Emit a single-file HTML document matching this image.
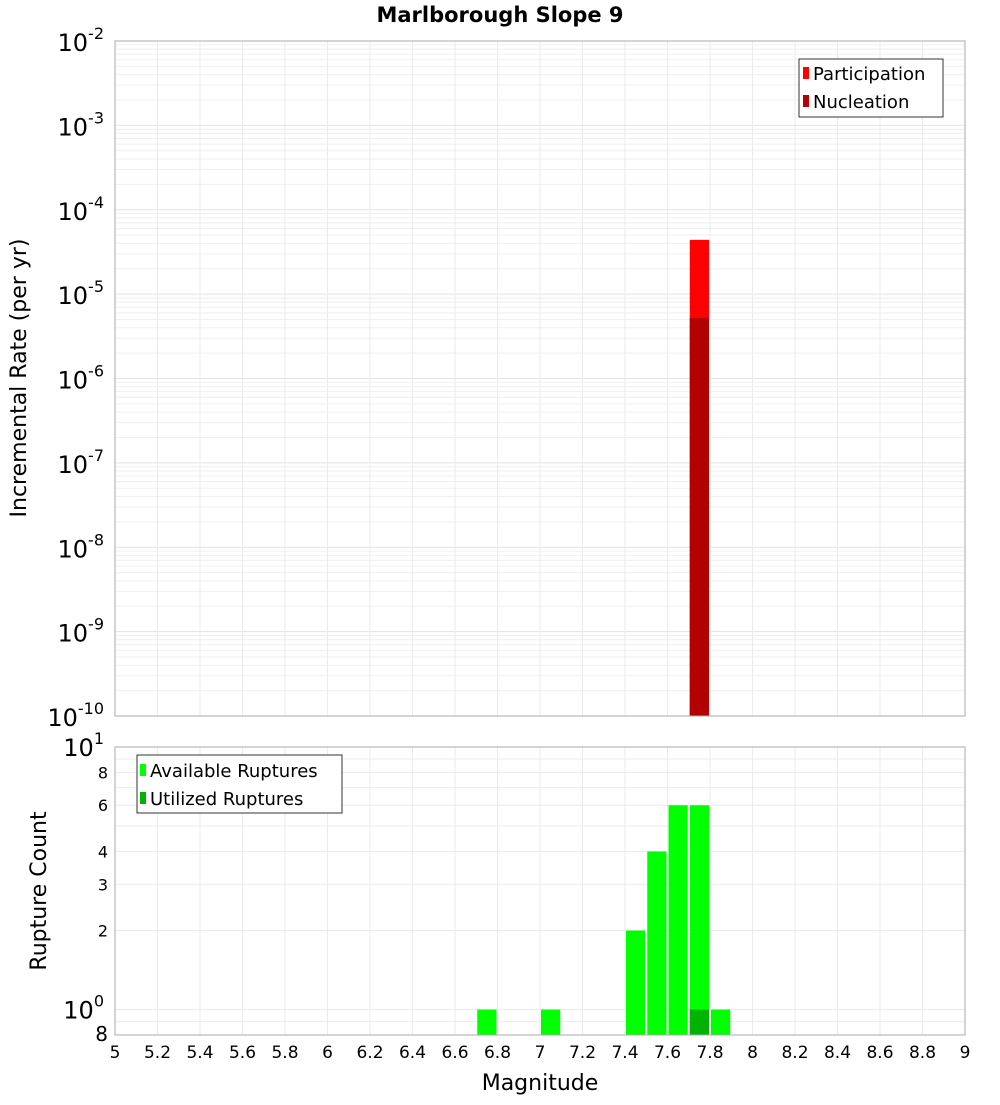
<!DOCTYPE html>
<html><head><meta charset="utf-8"><style>
body{margin:0;background:#fff;font-family:"Liberation Sans","DejaVu Sans",sans-serif}
svg text{font-family:"DejaVu Sans","Liberation Sans",sans-serif}
</style></head><body>
<svg id="c" width="1000" height="1100"></svg>
<script>
const magBins=[7.75];
const participation=[4.4e-5];
const nucleation=[5.2e-6];
const countBins=[6.75,7.05,7.45,7.55,7.65,7.75,7.85];
const available=[1,1,2,4,6,6,1];
const utilizedBins=[7.75];
const utilized=[1];
const xTicks=[5,5.2,5.4,5.6,5.8,6,6.2,6.4,6.6,6.8,7,7.2,7.4,7.6,7.8,8,8.2,8.4,8.6,8.8,9];
const topExp=[-10,-9,-8,-7,-6,-5,-4,-3,-2];
const botTicks=[2,3,4,6,8];

const svg=document.getElementById('c');const NS='http://www.w3.org/2000/svg';
function el(t,a,name,txt){const e=document.createElementNS(NS,t);for(const k in a)e.setAttribute(k,a[k]);


if(txt!==undefined)e.textContent=txt;svg.appendChild(e);return e;}
const L=115,R=965,T1=41,B1=716,T2=747,B2=1035;
const X=v=>L+(v-5)/4*(R-L);
const Y1=v=>T1+(-2-Math.log10(v))/8*(B1-T1);
const lb=Math.log10(0.8),lt=1;
const Y2=v=>T2+(lt-Math.log10(v))/(lt-lb)*(B2-T2);
el('text',{x:500,y:22,'text-anchor':'middle','font-size':21,'font-weight':'bold'},'chart-title','Marlborough Slope 9');
// grids
for(let e=-10;e<-2;e++)for(let m=1;m<10;m++){const y=Y1(m*Math.pow(10,e));el('line',{x1:L,x2:R,y1:y,y2:y,stroke:m==1?'#e2e2e2':'#efefef'},'top-h-grid');}
[0.8,0.9,1,2,3,4,5,6,7,8,9,10].forEach(v=>{const y=Y2(v);el('line',{x1:L,x2:R,y1:y,y2:y,stroke:'#ebebeb'},'bottom-h-grid');});
xTicks.forEach(v=>{el('line',{x1:X(v),x2:X(v),y1:T1,y2:B1,stroke:'#ebebeb'},'top-v-grid');el('line',{x1:X(v),x2:X(v),y1:T2,y2:B2,stroke:'#ebebeb'},'bottom-v-grid');});
// top bars
const bw=(R-L)/40;
magBins.forEach((m,i)=>{el('rect',{x:X(m)-bw/2+1,y:Y1(participation[i]),width:bw-2,height:B1-Y1(participation[i]),fill:'#ff0000'},'participation-bar');
el('rect',{x:X(m)-bw/2+1,y:Y1(nucleation[i]),width:bw-2,height:B1-Y1(nucleation[i]),fill:'#b30000'},'nucleation-bar');});
countBins.forEach((m,i)=>el('rect',{x:X(m)-bw/2+1,y:Y2(available[i]),width:bw-2,height:B2-Y2(available[i]),fill:'#00ff00'},'available-bar'));
utilizedBins.forEach((m,i)=>el('rect',{x:X(m)-bw/2+1,y:Y2(utilized[i]),width:bw-2,height:B2-Y2(utilized[i]),fill:'#00b300'},'utilized-bar'));
el('rect',{x:L,y:T1,width:R-L,height:B1-T1,fill:'none',stroke:'#aaa'},'top-plot-frame');
el('rect',{x:L,y:T2,width:R-L,height:B2-T2,fill:'none',stroke:'#aaa'},'bottom-plot-frame');
// top y labels
topExp.forEach(e=>{const y=Y1(Math.pow(10,e));const t=el('text',{x:104,y:y+10,'text-anchor':'end','font-size':24},'top-y-tick','10');
const s=document.createElementNS(NS,'tspan');s.setAttribute('dy','-12');s.setAttribute('font-size','16');s.textContent=e;t.appendChild(s);});
// bottom y labels
botTicks.forEach(v=>el('text',{x:108,y:Y2(v)+6,'text-anchor':'end','font-size':16},'bottom-y-tick',v));
[[10,'1'],[1,'0']].forEach(([v,p])=>{const t=el('text',{x:104,y:Y2(v)+9,'text-anchor':'end','font-size':24},'bottom-y-tick','10');
const s=document.createElementNS(NS,'tspan');s.setAttribute('dy','-12');s.setAttribute('font-size','16');s.textContent=p;t.appendChild(s);});
el('text',{x:108,y:B2+6,'text-anchor':'end','font-size':20},'bottom-y-tick','8');
xTicks.forEach(v=>el('text',{x:X(v),y:1058,'text-anchor':'middle','font-size':17},'x-tick',String(v)));
el('text',{x:540,y:1090,'text-anchor':'middle','font-size':22},'x-axis-title','Magnitude');
el('text',{x:0,y:0,'text-anchor':'middle','font-size':22,transform:'translate(26,378) rotate(-90)'},'top-y-axis-title','Incremental Rate (per yr)');
el('text',{x:0,y:0,'text-anchor':'middle','font-size':22,transform:'translate(46,891) rotate(-90)'},'bottom-y-axis-title','Rupture Count');
// legends
el('rect',{x:799,y:59,width:144,height:58,fill:'#fff',stroke:'#333'},'top-legend');
el('rect',{x:803,y:67,width:6,height:12,fill:'#ff0000'},'legend-participation-swatch');
el('text',{x:813,y:80,'font-size':18},'legend-participation','Participation');
el('rect',{x:803,y:95,width:6,height:12,fill:'#b30000'},'legend-nucleation-swatch');
el('text',{x:813,y:108,'font-size':18},'legend-nucleation','Nucleation');
el('rect',{x:137,y:755,width:205,height:58,fill:'#fff',stroke:'#333'},'bottom-legend');
el('rect',{x:140,y:764,width:6,height:12,fill:'#00ff00'},'legend-available-swatch');
el('text',{x:150,y:777,'font-size':18},'legend-available','Available Ruptures');
el('rect',{x:140,y:792,width:6,height:12,fill:'#00b300'},'legend-utilized-swatch');
el('text',{x:150,y:805,'font-size':18},'legend-utilized','Utilized Ruptures');
</script></body></html>
